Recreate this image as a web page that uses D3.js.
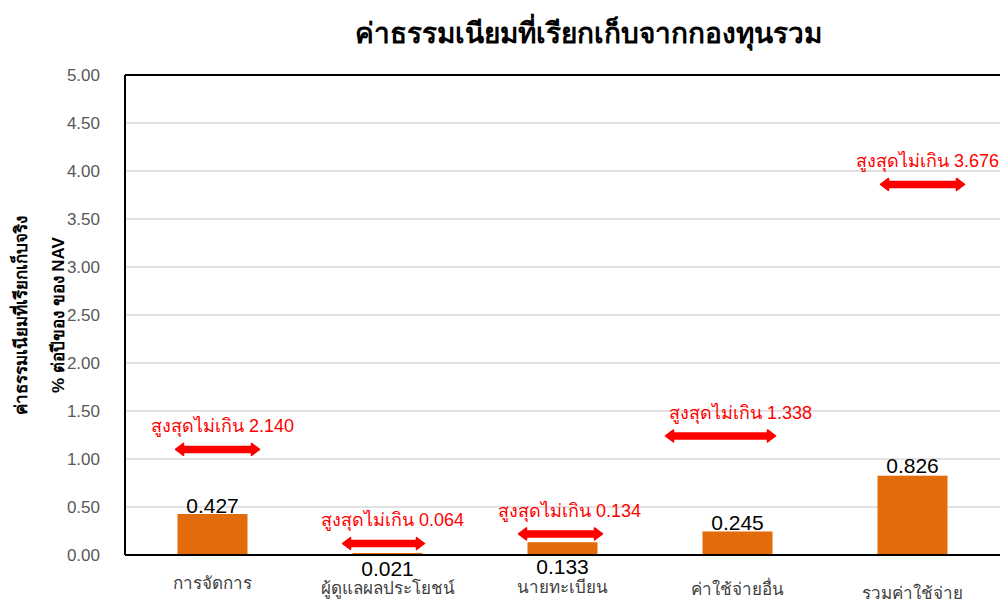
<!DOCTYPE html>
<html>
<head>
<meta charset="utf-8">
<script src="https://cdn.jsdelivr.net/npm/d3@7"></script>
<style>
  body { margin: 0; background: #fff; }
  text { font-family: "Liberation Sans", Tahoma, "Noto Sans", sans-serif; }
</style>
</head>
<body>
<div id="chart"></div>
<script>
// Data
const categories = ['การจัดการ', 'ผู้ดูแลผลประโยชน์', 'นายทะเบียน', 'ค่าใช้จ่ายอื่น', 'รวมค่าใช้จ่าย'];
const actual = [0.427, 0.021, 0.133, 0.245, 0.826];
const maxAllowed = [2.140, 0.064, 0.134, 1.338, 3.676];
// where the "max" markers sit on the value axis (as drawn in the original)
const markerPos = [1.10, 0.12, 0.22, 1.24, 3.86];
const yTicks = [0, 0.5, 1, 1.5, 2, 2.5, 3, 3.5, 4, 4.5, 5];

const W = 1002, H = 603;
const margin = { top: 75, right: 2, bottom: 48, left: 125 };
const width = W - margin.left - margin.right;
const height = H - margin.top - margin.bottom;

const svg = d3.select('#chart').append('svg')
  .attr('width', W).attr('height', H);

// Title
svg.append('text')
  .attr('x', 588).attr('y', 43)
  .attr('text-anchor', 'middle')
  .style('font-size', '28px').style('font-weight', 'bold')
  .text('ค่าธรรมเนียมที่เรียกเก็บจากกองทุนรวม');

const g = svg.append('g')
  .attr('transform', `translate(${margin.left},${margin.top})`);

const x = d3.scaleBand().domain(categories).range([0, width])
  .paddingInner(0.6).paddingOuter(0.3);
const y = d3.scaleLinear().domain([0, 5]).range([height, 0]);

// Gridlines
g.append('g')
  .selectAll('line')
  .data(yTicks.slice(1))
  .enter().append('line')
  .attr('x1', 0).attr('x2', width)
  .attr('y1', d => y(d)).attr('y2', d => y(d))
  .attr('stroke', '#d9d9d9').attr('stroke-width', 1.5);

// Y axis
const yAxis = g.append('g')
  .call(d3.axisLeft(y).tickValues(yTicks).tickFormat(d3.format('.2f')).tickSize(0).tickPadding(25));
yAxis.select('.domain').remove();
yAxis.selectAll('text').style('font-size', '17px').attr('fill', '#595959');

// Frame: left, top
g.append('line').attr('x1', 0).attr('x2', 0).attr('y1', 0).attr('y2', height)
  .attr('stroke', '#000').attr('stroke-width', 2);
g.append('line').attr('x1', 0).attr('x2', width).attr('y1', 0).attr('y2', 0)
  .attr('stroke', '#000').attr('stroke-width', 2);

// Bars
g.selectAll('.bar')
  .data(categories)
  .enter().append('rect')
  .attr('class', 'bar')
  .attr('x', d => x(d))
  .attr('width', x.bandwidth())
  .attr('y', (d, i) => y(actual[i]))
  .attr('height', (d, i) => height - y(actual[i]))
  .attr('fill', '#e36c0a');

// Baseline
g.append('line').attr('x1', 0).attr('x2', width).attr('y1', height).attr('y2', height)
  .attr('stroke', '#000').attr('stroke-width', 2);

// Value labels (small bars get their label under the axis)
const valueDy = [-1, 21, 19, -1, -3];
g.selectAll('.val')
  .data(categories)
  .enter().append('text')
  .attr('class', 'val')
  .attr('x', d => x(d) + x.bandwidth() / 2)
  .attr('y', (d, i) => (actual[i] < 0.2 ? height : y(actual[i])) + valueDy[i])
  .attr('text-anchor', 'middle')
  .style('font-size', '21px')
  .attr('fill', '#000')
  .text((d, i) => actual[i].toFixed(3));

// Category labels
const catDy = [34, 39, 38, 40, 44];
g.selectAll('.cat')
  .data(categories)
  .enter().append('text')
  .attr('class', 'cat')
  .attr('x', d => x(d) + x.bandwidth() / 2)
  .attr('y', (d, i) => height + catDy[i])
  .attr('text-anchor', 'middle')
  .style('font-size', '17px')
  .attr('fill', '#404040')
  .text(d => d);

// Max markers
const markShift = [5, -4, -2, -17, 10];
const markHalf = [42, 41, 42, 55, 42];
const labelShift = [5, 9, 9, 20, 5];
const mk = g.selectAll('.mark')
  .data(categories)
  .enter().append('g')
  .attr('class', 'mark')
  .attr('transform', (d, i) => `translate(${x(d) + x.bandwidth() / 2 + markShift[i]},${y(markerPos[i])})`);

mk.append('path')
  .attr('d', (d, i) => {
    const h = markHalf[i];
    return `M${-h},0 L${-h + 8},-6 L${-h + 8},-3 L${h - 8},-3 L${h - 8},-6 L${h},0 L${h - 8},6 L${h - 8},3 L${-h + 8},3 L${-h + 8},6 Z`;
  })
  .attr('fill', '#ff0000')
  .attr('stroke', '#ff0000')
  .attr('stroke-width', 1.5)
  .attr('stroke-linejoin', 'round');

mk.append('text')
  .attr('x', (d, i) => labelShift[i])
  .attr('y', -17)
  .attr('text-anchor', 'middle')
  .style('font-size', '18px')
  .attr('fill', '#ff0000')
  .text((d, i) => 'สูงสุดไม่เกิน ' + maxAllowed[i].toFixed(3));

// Y axis title
const yt = svg.append('text')
  .attr('transform', 'translate(0,315) rotate(-90)')
  .attr('text-anchor', 'middle')
  .style('font-size', '17px').style('font-weight', 'bold');
yt.append('tspan').attr('x', 0).attr('y', 27).text('ค่าธรรมเนียมที่เรียกเก็บจริง');
yt.append('tspan').attr('x', 0).attr('y', 64).text('% ต่อปีของ ของ NAV');
</script>
</body>
</html>
